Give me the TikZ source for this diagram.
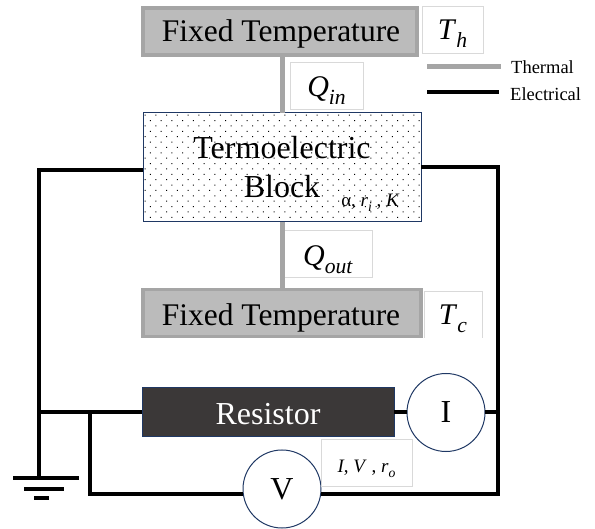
\documentclass[tikz,border=0pt]{standalone}
\usepackage{fontspec}
\setmainfont{Liberation Serif}
\usetikzlibrary{patterns.meta}
\definecolor{thermalgray}{HTML}{A5A5A5}
\definecolor{fixedfill}{HTML}{BBBBBB}
\definecolor{navyedge}{HTML}{1F3864}
\definecolor{resistorfill}{HTML}{3B3838}
\definecolor{labeledge}{HTML}{D9D9D9}
\newcommand{\fsize}[1]{\fontsize{#1}{#1}\selectfont}
\newcommand{\vsub}[2]{\textit{#1}\raisebox{-.24em}{\scalebox{.72}{\textit{#2}}}}
\begin{document}
\begin{tikzpicture}[
  x=1pt,y=-1pt,
  fixedbox/.style={draw=thermalgray,line width=3.6pt,fill=fixedfill,minimum height=47pt,
                   outer sep=0pt,inner sep=0pt,font=\fsize{31.5}},
  valbox/.style={draw=labeledge,line width=.8pt,fill=white,outer sep=0pt,inner sep=0pt,
                 text height=28pt,text depth=7pt,font=\fsize{30}},
  meter/.style={circle,draw=navyedge,line width=1pt,fill=white,minimum size=78pt,
                outer sep=0pt,inner sep=0pt,font=\fsize{32}},
  bar/.style={fill=black,inner sep=0pt,outer sep=0pt},
  legend/.style={anchor=west,inner sep=0pt,font=\fsize{18.5}},
  thermal/.style={draw=thermalgray,line width=5pt},
  wire/.style={draw=black,line width=4pt}
]
\useasboundingbox (0,0) rectangle (595,529);
% thermal stack
\node[fixedbox,minimum width=274pt] (hotbox) at (280,31.5) {};
\node[draw=navyedge,line width=1pt,minimum width=278pt,minimum height=109pt,outer sep=0pt,
      pattern={Dots[radius=.7pt,distance=7.6pt,angle=45]}] (block) at (282,167.5) {};
\node[fixedbox,minimum width=278pt] (coldbox) at (282,313) {};
\node[font=\fsize{31.5},inner sep=0pt,anchor=base] (hottext) at (281,42) {Fixed Temperature};
\node[font=\fsize{31.5},inner sep=0pt,anchor=base] (coldtext) at (281,326) {Fixed Temperature};
\node[font=\fsize{32},inner sep=0pt,anchor=base] (blocktop) at (282,159) {Termoelectric};
\node[font=\fsize{32},inner sep=0pt,anchor=base] (blockbottom) at (282,198) {Block};
\node[font=\fsize{19},inner sep=0pt] (blockvals) at (370.5,203) {α, \vsub{r}{i} , \textit{K}};
\node[valbox,minimum width=61pt,minimum height=47pt] (thval) at (452.5,29.5) {\vsub{T}{h}};
\node[valbox,minimum width=73pt,minimum height=47pt,text height=30pt] (qinval) at (326.5,85.5) {\vsub{Q}{in}};
\node[valbox,minimum width=88pt,minimum height=47pt,text height=32pt] (qoutval) at (328,253.5) {\vsub{Q}{out}};
\node[minimum width=58pt,minimum height=47pt,outer sep=0pt,inner sep=0pt,text height=28pt,text depth=7pt,font=\fsize{30}] (tcval) at (453,314.5) {\vsub{T}{c}};
\draw[labeledge,line width=.8pt] (tcval.south west) |- (tcval.north east) -- (tcval.south east);
\draw[thermal] (block.north |- hotbox.south) -- (block.north);
\draw[thermal] (block.south) -- (coldbox.north);
% circuit
\node[draw=navyedge,line width=1pt,fill=resistorfill,minimum width=252pt,minimum height=49pt,
      outer sep=0pt,inner sep=0pt] (resistor) at (268,412.5) {};
\node[text=white,font=\fsize{32},inner sep=0pt,anchor=base] (resistortext) at (268,425) {Resistor};
\node[meter] (imeter) at (446,412.5) {I};
\node[meter] (vmeter) at (282,489) {V};
\node[valbox,minimum width=91pt,minimum height=47pt,font=\fsize{19}] (ivrval) at (366.5,462.5) {\textit{I}, \textit{V} , \vsub{r}{o}};
\node[bar,minimum width=66pt,minimum height=4pt] (gndone) at (46,478) {};
\node[bar,minimum width=40pt,minimum height=4pt] (gndtwo) at (44,489) {};
\node[bar,minimum width=15pt,minimum height=4pt] (gndthree) at (41.5,498) {};
\coordinate (leftbus) at (39,412.5);
\coordinate (vtap) at (90,412.5);
\coordinate (rightbus) at (498,412.5);
\draw[wire] ([yshift=-2.5pt]block.west) -| (leftbus) -- (leftbus |- gndone.north);
\draw[wire] (leftbus) -- (resistor.west);
\draw[wire] (vtap) |- (vmeter.187.4);
\draw[wire] (block.east) -| (rightbus |- vmeter.352.6) -- (vmeter.352.6);
\draw[wire] (resistor.east) -- (imeter.west);
\draw[wire] (imeter.east) -- (rightbus);
% legend
\coordinate (thermalend) at (427,67);
\coordinate (wireend) at (427,92);
\node[legend] (thermallabel) at (511,67) {Thermal};
\node[legend] (wirelabel) at (510,94) {Electrical};
\draw[thermal] (thermalend) -- ([xshift=-10pt]thermallabel.west);
\draw[wire] (wireend) -- ([xshift=-11pt,yshift=2pt]wirelabel.west);
\end{tikzpicture}
\end{document}
